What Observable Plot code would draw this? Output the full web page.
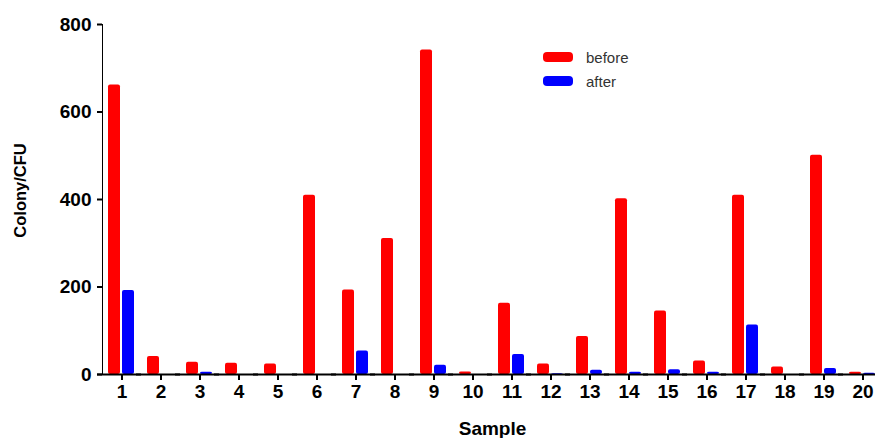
<!DOCTYPE html>
<html>
<head>
<meta charset="utf-8">
<script src="https://cdn.jsdelivr.net/npm/d3@7"></script>
<script src="https://cdn.jsdelivr.net/npm/@observablehq/plot@0.6"></script>
<style>
  html, body { margin: 0; padding: 0; background: #fff; overflow: hidden; }
  #wrap { position: relative; width: 875px; height: 438px; overflow: hidden; }
  #chart svg { display: block; max-width: none !important; }
  g[aria-label="fx-axis label"] text { font-size: 19px; }
  g[aria-label="y-axis label"] text { font-size: 16.5px; }
  .legend { position: absolute; left: 543px; top: 45px; font-family: "Liberation Sans", Arial, sans-serif; font-size: 15px; color: #333; }
  .legend .row { display: flex; align-items: center; height: 24px; }
  .legend .sw { width: 30px; height: 10px; border-radius: 4px; margin-right: 13px; }
</style>
</head>
<body>
<div id="wrap">
  <div id="chart"></div>
  <div class="legend" id="legend"></div>
</div>
<script>
const samples = ["1","2","3","4","5","6","7","8","9","10","11","12","13","14","15","16","17","18","19","20"];
const seriesNames = ["before", "after"];
const seriesColors = ["#ff0000", "#0000ff"];
const before = [662, 41, 28, 26, 24, 410, 193, 311, 742, 6, 163, 24, 87, 402, 145, 31, 410, 17, 501, 5];
const after  = [192, 0, 5, 0, 0, 0, 54, 0, 21, 0, 46, 2, 10, 5, 11, 5, 113, 0, 14, 3];
const yTicks = [0, 200, 400, 600, 800];

const table = [];
samples.forEach((s, i) => {
  table.push({sample: s, series: "before", value: before[i]});
  table.push({sample: s, series: "after", value: after[i]});
});

const chart = Plot.plot({
  width: 884,
  height: 438,
  marginLeft: 100,
  marginRight: 0,
  marginTop: 24,
  marginBottom: 64,
  style: {fontFamily: "'Liberation Sans', Arial, sans-serif", fontSize: "19px", fontWeight: "bold", color: "#000", background: "#fff", maxWidth: "none"},
  fx: {
    domain: samples,
    paddingInner: 0,
    paddingOuter: 0.03,
    label: "Sample",
    labelAnchor: "center",
    labelOffset: 60,
    tickSize: 6,
    tickPadding: 4,
    axis: "bottom"
  },
  x: {domain: seriesNames, paddingInner: 0.118, paddingOuter: 0.417, axis: null},
  y: {
    domain: [0, 800],
    ticks: yTicks,
    tickSize: 5,
    tickPadding: 6,
    line: true,
    label: "Colony/CFU",
    labelAnchor: "center",
    labelArrow: "none",
    labelOffset: 88
  },
  color: {domain: seriesNames, range: seriesColors},
  marks: [
    Plot.barY(table, {fx: "sample", x: "series", y: "value", fill: "series", rx: 2}),
    Plot.ruleY([0], {strokeWidth: 2, insetLeft: -5})
  ]
});
document.getElementById("chart").appendChild(chart);

// thicken axis strokes
chart.querySelectorAll('g[aria-label="y-axis tick"], g[aria-label="fx-axis tick"], g[aria-label="y-axis line"]').forEach(g => g.setAttribute("stroke-width", 2));

// nudge the y-axis title slightly upward, as in the reference
const yl = chart.querySelector('g[aria-label="y-axis label"]');
if (yl) {
  const tr = yl.getAttribute("transform") || "";
  yl.setAttribute("transform", (tr + " translate(0,-9)").trim());
}

const legend = document.getElementById("legend");
seriesNames.forEach((name, i) => {
  const row = document.createElement("div");
  row.className = "row";
  const sw = document.createElement("div");
  sw.className = "sw";
  sw.style.background = seriesColors[i];
  const t = document.createElement("span");
  t.textContent = name;
  row.appendChild(sw);
  row.appendChild(t);
  legend.appendChild(row);
});
</script>
</body>
</html>
